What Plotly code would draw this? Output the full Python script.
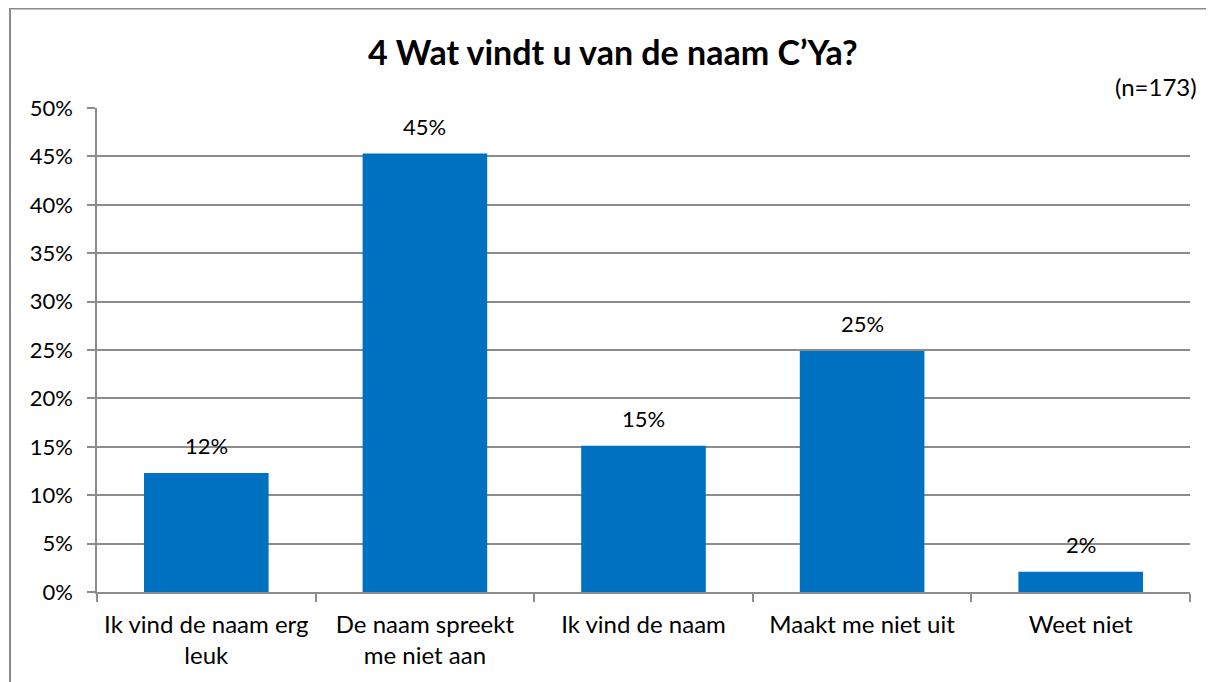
import plotly.graph_objects as go

categories = ["Ik vind de naam erg<br>leuk", "De naam spreekt<br>me niet aan", "Ik vind de naam",
              "Maakt me niet uit", "Weet niet"]
values = [12.3, 45.3, 15.1, 24.9, 2.1]
labels = ["12%", "45%", "15%", "25%", "2%"]
y_ticks = [0, 5, 10, 15, 20, 25, 30, 35, 40, 45, 50]
y_tick_text = [f"{v}%" for v in y_ticks]

OFF = 8  # page body margin
W, H = 1214 - OFF, 682 - OFF
L, R, T, B = 97 - OFF, 24, 108 - OFF, 90
pw, ph = W - L - R, H - T - B


def px_x(sx):
    return (sx - OFF - L) / pw


def px_y(sy):
    return (T + ph - (sy - OFF)) / ph


FONT = "Lato, Carlito, Calibri, sans-serif"
GRID = "#8c8c8c"

fig = go.Figure()
fig.add_trace(go.Bar(x=categories, y=values, marker=dict(color="#0070C0", line=dict(width=0)),
                     hoverinfo="skip"))

for c, v, t in zip(categories, values, labels):
    fig.add_annotation(x=c, y=v, text=t, showarrow=False, yshift=27,
                       font=dict(family=FONT, size=22, color="#000000"))

fig.add_annotation(xref="paper", yref="paper", x=px_x(613), y=px_y(52),
                   text="<b>4 Wat vindt u van de naam C’Ya?</b>", showarrow=False,
                   xanchor="center", yanchor="middle",
                   font=dict(family=FONT, size=34, color="#000000"))
fig.add_annotation(xref="paper", yref="paper", x=px_x(1199), y=px_y(86),
                   text="(n=173)", showarrow=False, xanchor="right", yanchor="middle",
                   font=dict(family=FONT, size=24, color="#000000"))

fig.add_shape(type="rect", xref="paper", yref="paper",
              x0=px_x(10), x1=px_x(1207),
              y0=px_y(720), y1=px_y(8.5),
              line=dict(color="#8a8a8a", width=2), fillcolor="rgba(0,0,0,0)", layer="below")

fig.update_layout(
    width=W, height=H,
    margin=dict(l=L, r=R, t=T, b=B, autoexpand=False),
    paper_bgcolor="white", plot_bgcolor="white",
    bargap=0.43, showlegend=False,
    font=dict(family=FONT, size=22, color="#000000"),
)
fig.update_xaxes(showline=True, linecolor=GRID, linewidth=1.5, ticks="outside",
                 tickson="boundaries", ticklen=8, tickcolor=GRID, tickwidth=1.5,
                 ticklabelstandoff=10,
                 tickfont=dict(family=FONT, size=24, color="#000000"), showgrid=False)
fig.update_yaxes(range=[0, 50], tickvals=y_ticks, ticktext=y_tick_text,
                 showline=True, linecolor=GRID, linewidth=1.5, ticks="outside",
                 ticklen=8, tickcolor=GRID, tickwidth=1.5, showgrid=True,
                 gridcolor=GRID, gridwidth=1.5, zeroline=False,
                 ticklabelstandoff=10,
                 tickfont=dict(family=FONT, size=22, color="#000000"))

fig.write_html("out.html")
